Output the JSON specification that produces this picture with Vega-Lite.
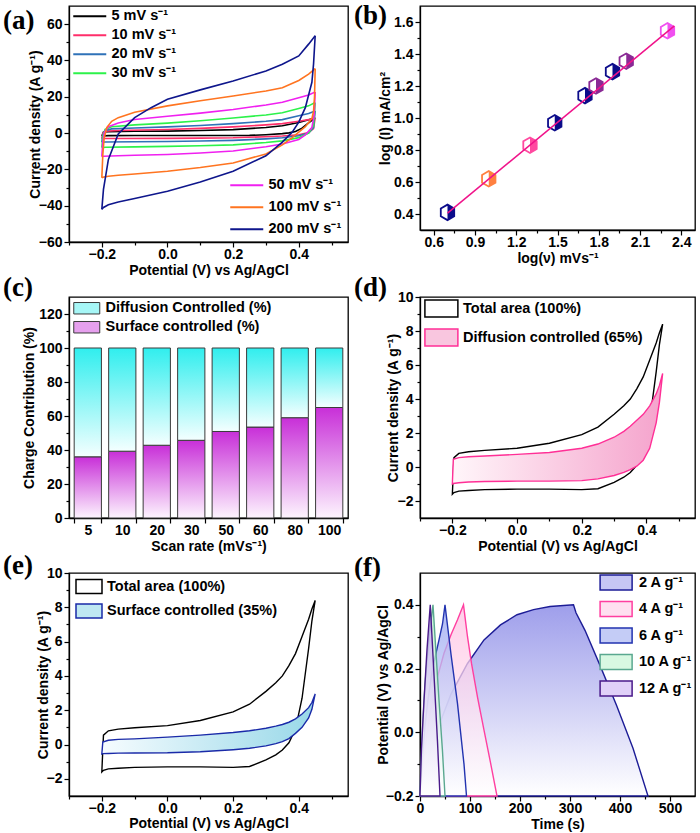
{
"$schema": "https://vega.github.io/schema/vega-lite/v6.json",
"background": "white",
"padding": {"left": 2, "top": 1, "right": 4, "bottom": 0},
"columns": 2,
"spacing": {"row": 55, "column": 72},
"bounds": "flush",
"align": "each",
"resolve": {"scale": {"color": "independent", "fill": "independent", "stroke": "independent"}, "legend": {"color": "independent", "fill": "independent", "stroke": "independent"}},
"datasets": {
"cv": [
{"s":"5","b":"u","x":-0.2,"y":-1.6},{"s":"5","b":"u","x":-0.195,"y":0.55},{"s":"5","b":"u","x":-0.18,"y":0.8},{"s":"5","b":"u","x":-0.1,"y":0.98},{"s":"5","b":"u","x":0,"y":1.1},{"s":"5","b":"u","x":0.1,"y":1.4},{"s":"5","b":"u","x":0.2,"y":1.9},{"s":"5","b":"u","x":0.3,"y":3.1},{"s":"5","b":"u","x":0.35,"y":4.0},{"s":"5","b":"u","x":0.4,"y":5.8},{"s":"5","b":"u","x":0.43,"y":7.3},{"s":"5","b":"u","x":0.45,"y":8.4},
{"s":"5","b":"l","x":-0.2,"y":-1.6},{"s":"5","b":"l","x":-0.18,"y":-1.42},{"s":"5","b":"l","x":-0.1,"y":-1.33},{"s":"5","b":"l","x":0,"y":-1.3},{"s":"5","b":"l","x":0.1,"y":-1.3},{"s":"5","b":"l","x":0.2,"y":-1.33},{"s":"5","b":"l","x":0.25,"y":-1.28},{"s":"5","b":"l","x":0.3,"y":-0.9},{"s":"5","b":"l","x":0.35,"y":-0.32},{"s":"5","b":"l","x":0.37,"y":0.1},{"s":"5","b":"l","x":0.39,"y":0.9},{"s":"5","b":"l","x":0.41,"y":2.7},{"s":"5","b":"l","x":0.43,"y":5.6},{"s":"5","b":"l","x":0.45,"y":8.4},
{"s":"10","b":"u","x":-0.2,"y":-3},{"s":"10","b":"u","x":-0.197,"y":0},{"s":"10","b":"u","x":-0.19,"y":1},{"s":"10","b":"u","x":-0.15,"y":1.4},{"s":"10","b":"u","x":0,"y":2},{"s":"10","b":"u","x":0.1,"y":2.6},{"s":"10","b":"u","x":0.2,"y":3.4},{"s":"10","b":"u","x":0.3,"y":4.5},{"s":"10","b":"u","x":0.35,"y":5.2},{"s":"10","b":"u","x":0.4,"y":6.5},{"s":"10","b":"u","x":0.43,"y":7.4},{"s":"10","b":"u","x":0.45,"y":8.5},
{"s":"10","b":"l","x":-0.2,"y":-3},{"s":"10","b":"l","x":-0.15,"y":-3},{"s":"10","b":"l","x":0,"y":-2.9},{"s":"10","b":"l","x":0.1,"y":-2.8},{"s":"10","b":"l","x":0.2,"y":-2.6},{"s":"10","b":"l","x":0.3,"y":-2},{"s":"10","b":"l","x":0.35,"y":-1.6},{"s":"10","b":"l","x":0.4,"y":-0.9},{"s":"10","b":"l","x":0.43,"y":0.3},{"s":"10","b":"l","x":0.445,"y":2.5},{"s":"10","b":"l","x":0.45,"y":8.5},
{"s":"20","b":"u","x":-0.2,"y":-5},{"s":"20","b":"u","x":-0.197,"y":-1},{"s":"20","b":"u","x":-0.19,"y":1.5},{"s":"20","b":"u","x":-0.17,"y":2.3},{"s":"20","b":"u","x":-0.1,"y":2.8},{"s":"20","b":"u","x":0,"y":3.4},{"s":"20","b":"u","x":0.1,"y":4.2},{"s":"20","b":"u","x":0.2,"y":5.2},{"s":"20","b":"u","x":0.3,"y":6.5},{"s":"20","b":"u","x":0.35,"y":7.4},{"s":"20","b":"u","x":0.4,"y":9.5},{"s":"20","b":"u","x":0.43,"y":10.8},{"s":"20","b":"u","x":0.45,"y":12.2},
{"s":"20","b":"l","x":-0.2,"y":-5},{"s":"20","b":"l","x":-0.19,"y":-4.9},{"s":"20","b":"l","x":-0.1,"y":-4.8},{"s":"20","b":"l","x":0,"y":-4.6},{"s":"20","b":"l","x":0.1,"y":-4.4},{"s":"20","b":"l","x":0.2,"y":-4},{"s":"20","b":"l","x":0.3,"y":-3.2},{"s":"20","b":"l","x":0.35,"y":-2.6},{"s":"20","b":"l","x":0.4,"y":-1.5},{"s":"20","b":"l","x":0.43,"y":0},{"s":"20","b":"l","x":0.445,"y":3},{"s":"20","b":"l","x":0.45,"y":12.2},
{"s":"30","b":"u","x":-0.2,"y":-8},{"s":"30","b":"u","x":-0.197,"y":-2},{"s":"30","b":"u","x":-0.19,"y":2},{"s":"30","b":"u","x":-0.17,"y":3.5},{"s":"30","b":"u","x":-0.1,"y":4.5},{"s":"30","b":"u","x":0,"y":5.5},{"s":"30","b":"u","x":0.1,"y":6.8},{"s":"30","b":"u","x":0.2,"y":8.3},{"s":"30","b":"u","x":0.3,"y":10},{"s":"30","b":"u","x":0.35,"y":11.2},{"s":"30","b":"u","x":0.4,"y":13.5},{"s":"30","b":"u","x":0.43,"y":15},{"s":"30","b":"u","x":0.45,"y":16.8},
{"s":"30","b":"l","x":-0.2,"y":-8},{"s":"30","b":"l","x":-0.19,"y":-7.8},{"s":"30","b":"l","x":-0.1,"y":-7.6},{"s":"30","b":"l","x":0,"y":-7.3},{"s":"30","b":"l","x":0.1,"y":-7},{"s":"30","b":"l","x":0.2,"y":-6.5},{"s":"30","b":"l","x":0.3,"y":-5.2},{"s":"30","b":"l","x":0.35,"y":-4.3},{"s":"30","b":"l","x":0.4,"y":-2.5},{"s":"30","b":"l","x":0.43,"y":0},{"s":"30","b":"l","x":0.445,"y":4},{"s":"30","b":"l","x":0.45,"y":16.8},
{"s":"50","b":"u","x":-0.2,"y":-13},{"s":"50","b":"u","x":-0.197,"y":-5},{"s":"50","b":"u","x":-0.192,"y":0.5},{"s":"50","b":"u","x":-0.18,"y":3.5},{"s":"50","b":"u","x":-0.15,"y":5.5},{"s":"50","b":"u","x":-0.1,"y":7.5},{"s":"50","b":"u","x":0,"y":9.3},{"s":"50","b":"u","x":0.1,"y":11},{"s":"50","b":"u","x":0.2,"y":13},{"s":"50","b":"u","x":0.3,"y":15.5},{"s":"50","b":"u","x":0.35,"y":17},{"s":"50","b":"u","x":0.4,"y":19.5},{"s":"50","b":"u","x":0.43,"y":21},{"s":"50","b":"u","x":0.45,"y":22.6},
{"s":"50","b":"l","x":-0.2,"y":-13},{"s":"50","b":"l","x":-0.195,"y":-12.8},{"s":"50","b":"l","x":-0.15,"y":-12.5},{"s":"50","b":"l","x":-0.1,"y":-12.2},{"s":"50","b":"l","x":0,"y":-11.8},{"s":"50","b":"l","x":0.1,"y":-11},{"s":"50","b":"l","x":0.2,"y":-9.9},{"s":"50","b":"l","x":0.3,"y":-7.5},{"s":"50","b":"l","x":0.35,"y":-6},{"s":"50","b":"l","x":0.4,"y":-3.5},{"s":"50","b":"l","x":0.42,"y":-1},{"s":"50","b":"l","x":0.44,"y":3},{"s":"50","b":"l","x":0.447,"y":10},{"s":"50","b":"l","x":0.45,"y":22.6},
{"s":"100","b":"u","x":-0.2,"y":-24.6},{"s":"100","b":"u","x":-0.197,"y":-12},{"s":"100","b":"u","x":-0.193,"y":-3},{"s":"100","b":"u","x":-0.185,"y":3},{"s":"100","b":"u","x":-0.17,"y":6.5},{"s":"100","b":"u","x":-0.15,"y":8.5},{"s":"100","b":"u","x":-0.1,"y":11.5},{"s":"100","b":"u","x":0,"y":15},{"s":"100","b":"u","x":0.1,"y":17.8},{"s":"100","b":"u","x":0.2,"y":20.4},{"s":"100","b":"u","x":0.3,"y":23.2},{"s":"100","b":"u","x":0.35,"y":25},{"s":"100","b":"u","x":0.4,"y":29},{"s":"100","b":"u","x":0.43,"y":32.5},{"s":"100","b":"u","x":0.45,"y":35.5},
{"s":"100","b":"l","x":-0.2,"y":-24.6},{"s":"100","b":"l","x":-0.197,"y":-24.3},{"s":"100","b":"l","x":-0.18,"y":-23.8},{"s":"100","b":"l","x":-0.15,"y":-23.2},{"s":"100","b":"l","x":-0.1,"y":-22.5},{"s":"100","b":"l","x":0,"y":-21},{"s":"100","b":"l","x":0.1,"y":-19},{"s":"100","b":"l","x":0.2,"y":-16.5},{"s":"100","b":"l","x":0.3,"y":-11.5},{"s":"100","b":"l","x":0.35,"y":-6.5},{"s":"100","b":"l","x":0.38,"y":-2.5},{"s":"100","b":"l","x":0.4,"y":0.5},{"s":"100","b":"l","x":0.42,"y":3.5},{"s":"100","b":"l","x":0.44,"y":8},{"s":"100","b":"l","x":0.445,"y":12},{"s":"100","b":"l","x":0.448,"y":20},{"s":"100","b":"l","x":0.45,"y":35.5},
{"s":"200","b":"u","x":-0.2,"y":-42},{"s":"200","b":"u","x":-0.195,"y":-31},{"s":"200","b":"u","x":-0.18,"y":-14.5},{"s":"200","b":"u","x":-0.15,"y":-0.5},{"s":"200","b":"u","x":-0.1,"y":8.5},{"s":"200","b":"u","x":-0.05,"y":14},{"s":"200","b":"u","x":0,"y":18.6},{"s":"200","b":"u","x":0.1,"y":23.8},{"s":"200","b":"u","x":0.2,"y":28.7},{"s":"200","b":"u","x":0.3,"y":34.2},{"s":"200","b":"u","x":0.35,"y":37.9},{"s":"200","b":"u","x":0.4,"y":42.5},{"s":"200","b":"u","x":0.43,"y":49},{"s":"200","b":"u","x":0.45,"y":53.6},
{"s":"200","b":"l","x":-0.2,"y":-42},{"s":"200","b":"l","x":-0.195,"y":-41},{"s":"200","b":"l","x":-0.18,"y":-39.5},{"s":"200","b":"l","x":-0.15,"y":-38},{"s":"200","b":"l","x":-0.1,"y":-36},{"s":"200","b":"l","x":0,"y":-32},{"s":"200","b":"l","x":0.1,"y":-27},{"s":"200","b":"l","x":0.2,"y":-21},{"s":"200","b":"l","x":0.3,"y":-12.5},{"s":"200","b":"l","x":0.35,"y":-5},{"s":"200","b":"l","x":0.38,"y":0.5},{"s":"200","b":"l","x":0.4,"y":6},{"s":"200","b":"l","x":0.42,"y":14},{"s":"200","b":"l","x":0.44,"y":28},{"s":"200","b":"l","x":0.445,"y":38},{"s":"200","b":"l","x":0.45,"y":53.6}
],
"pts": [
{"lx":0.7,"ly":0.41,"c":"navy"},{"lx":1.0,"ly":0.62,"c":"orange"},{"lx":1.3,"ly":0.83,"c":"pink"},{"lx":1.48,"ly":0.97,"c":"navy"},{"lx":1.7,"ly":1.14,"c":"navy"},{"lx":1.78,"ly":1.2,"c":"purple"},{"lx":1.9,"ly":1.29,"c":"navy"},{"lx":2.0,"ly":1.355,"c":"purple"},{"lx":2.3,"ly":1.545,"c":"magenta"}
],
"fit": [{"lx":0.7,"ly":0.405},{"lx":2.35,"ly":1.576}],
"cc": [{"r":"5","s":36},{"r":"10","s":39.3},{"r":"20","s":42.8},{"r":"30","s":45.7},{"r":"50","s":50.9},{"r":"60","s":53.5},{"r":"80","s":59},{"r":"100","s":65}],
"cvd": [
{"s":"Total area (100%)","x":-0.2,"hi":-1.6,"lo":-1.6},{"s":"Total area (100%)","x":-0.195,"hi":0.55,"lo":-1.5},{"s":"Total area (100%)","x":-0.18,"hi":0.8,"lo":-1.42},{"s":"Total area (100%)","x":-0.15,"hi":0.9,"lo":-1.38},{"s":"Total area (100%)","x":-0.1,"hi":0.98,"lo":-1.33},{"s":"Total area (100%)","x":0,"hi":1.1,"lo":-1.3},{"s":"Total area (100%)","x":0.1,"hi":1.4,"lo":-1.3},{"s":"Total area (100%)","x":0.2,"hi":1.9,"lo":-1.33},{"s":"Total area (100%)","x":0.25,"hi":2.35,"lo":-1.28},{"s":"Total area (100%)","x":0.3,"hi":3.1,"lo":-0.9},{"s":"Total area (100%)","x":0.33,"hi":3.6,"lo":-0.6},{"s":"Total area (100%)","x":0.35,"hi":4.0,"lo":-0.32},{"s":"Total area (100%)","x":0.37,"hi":4.6,"lo":0.1},{"s":"Total area (100%)","x":0.39,"hi":5.3,"lo":0.9},{"s":"Total area (100%)","x":0.41,"hi":6.3,"lo":2.7},{"s":"Total area (100%)","x":0.43,"hi":7.3,"lo":5.6},{"s":"Total area (100%)","x":0.44,"hi":7.9,"lo":7.2},{"s":"Total area (100%)","x":0.45,"hi":8.4,"lo":8.4},
{"s":"Diffusion controlled (65%)","x":-0.2,"hi":-1.0,"lo":-1.0},{"s":"Diffusion controlled (65%)","x":-0.197,"hi":0.45,"lo":-0.97},{"s":"Diffusion controlled (65%)","x":-0.18,"hi":0.55,"lo":-0.93},{"s":"Diffusion controlled (65%)","x":-0.15,"hi":0.6,"lo":-0.88},{"s":"Diffusion controlled (65%)","x":-0.1,"hi":0.65,"lo":-0.85},{"s":"Diffusion controlled (65%)","x":0,"hi":0.74,"lo":-0.83},{"s":"Diffusion controlled (65%)","x":0.1,"hi":0.85,"lo":-0.83},{"s":"Diffusion controlled (65%)","x":0.2,"hi":1.1,"lo":-0.8},{"s":"Diffusion controlled (65%)","x":0.25,"hi":1.35,"lo":-0.7},{"s":"Diffusion controlled (65%)","x":0.3,"hi":1.75,"lo":-0.5},{"s":"Diffusion controlled (65%)","x":0.33,"hi":2.1,"lo":-0.32},{"s":"Diffusion controlled (65%)","x":0.35,"hi":2.4,"lo":-0.15},{"s":"Diffusion controlled (65%)","x":0.37,"hi":2.75,"lo":0.05},{"s":"Diffusion controlled (65%)","x":0.39,"hi":3.1,"lo":0.4},{"s":"Diffusion controlled (65%)","x":0.41,"hi":3.6,"lo":1.1},{"s":"Diffusion controlled (65%)","x":0.43,"hi":4.3,"lo":2.6},{"s":"Diffusion controlled (65%)","x":0.44,"hi":4.8,"lo":3.8},{"s":"Diffusion controlled (65%)","x":0.45,"hi":5.5,"lo":5.5},
{"s":"Surface controlled (35%)","x":-0.2,"hi":-0.55,"lo":-0.55},{"s":"Surface controlled (35%)","x":-0.197,"hi":0.15,"lo":-0.53},{"s":"Surface controlled (35%)","x":-0.18,"hi":0.25,"lo":-0.52},{"s":"Surface controlled (35%)","x":-0.15,"hi":0.3,"lo":-0.5},{"s":"Surface controlled (35%)","x":-0.1,"hi":0.33,"lo":-0.49},{"s":"Surface controlled (35%)","x":0,"hi":0.43,"lo":-0.48},{"s":"Surface controlled (35%)","x":0.1,"hi":0.55,"lo":-0.42},{"s":"Surface controlled (35%)","x":0.2,"hi":0.7,"lo":-0.3},{"s":"Surface controlled (35%)","x":0.25,"hi":0.8,"lo":-0.22},{"s":"Surface controlled (35%)","x":0.3,"hi":0.95,"lo":-0.08},{"s":"Surface controlled (35%)","x":0.33,"hi":1.07,"lo":0.05},{"s":"Surface controlled (35%)","x":0.35,"hi":1.17,"lo":0.17},{"s":"Surface controlled (35%)","x":0.37,"hi":1.3,"lo":0.35},{"s":"Surface controlled (35%)","x":0.39,"hi":1.5,"lo":0.65},{"s":"Surface controlled (35%)","x":0.41,"hi":1.78,"lo":1.0},{"s":"Surface controlled (35%)","x":0.43,"hi":2.15,"lo":1.55},{"s":"Surface controlled (35%)","x":0.44,"hi":2.45,"lo":2.05},{"s":"Surface controlled (35%)","x":0.45,"hi":2.95,"lo":2.95}
],
"gcd": [
{"s":"2 A g⁻¹","t":0,"v":-0.2},{"s":"2 A g⁻¹","t":10,"v":-0.12},{"s":"2 A g⁻¹","t":25,"v":-0.04},{"s":"2 A g⁻¹","t":40,"v":0.03},{"s":"2 A g⁻¹","t":62,"v":0.12},{"s":"2 A g⁻¹","t":95,"v":0.216},{"s":"2 A g⁻¹","t":128,"v":0.29},{"s":"2 A g⁻¹","t":161,"v":0.337},{"s":"2 A g⁻¹","t":194,"v":0.369},{"s":"2 A g⁻¹","t":227,"v":0.385},{"s":"2 A g⁻¹","t":260,"v":0.395},{"s":"2 A g⁻¹","t":307,"v":0.4},{"s":"2 A g⁻¹","t":312,"v":0.375},{"s":"2 A g⁻¹","t":330,"v":0.32},{"s":"2 A g⁻¹","t":360,"v":0.21},{"s":"2 A g⁻¹","t":393,"v":0.085},{"s":"2 A g⁻¹","t":426,"v":-0.05},{"s":"2 A g⁻¹","t":456,"v":-0.2},
{"s":"4 A g⁻¹","t":0,"v":-0.2},{"s":"4 A g⁻¹","t":10,"v":-0.05},{"s":"4 A g⁻¹","t":20,"v":0.06},{"s":"4 A g⁻¹","t":35,"v":0.174},{"s":"4 A g⁻¹","t":48,"v":0.248},{"s":"4 A g⁻¹","t":62,"v":0.306},{"s":"4 A g⁻¹","t":75,"v":0.353},{"s":"4 A g⁻¹","t":87,"v":0.4},{"s":"4 A g⁻¹","t":95,"v":0.3},{"s":"4 A g⁻¹","t":103,"v":0.216},{"s":"4 A g⁻¹","t":115,"v":0.11},{"s":"4 A g⁻¹","t":128,"v":0.007},{"s":"4 A g⁻¹","t":141,"v":-0.095},{"s":"4 A g⁻¹","t":154,"v":-0.2},
{"s":"6 A g⁻¹","t":0,"v":-0.2},{"s":"6 A g⁻¹","t":5,"v":-0.08},{"s":"6 A g⁻¹","t":10,"v":0.02},{"s":"6 A g⁻¹","t":15,"v":0.09},{"s":"6 A g⁻¹","t":22,"v":0.17},{"s":"6 A g⁻¹","t":28,"v":0.22},{"s":"6 A g⁻¹","t":38,"v":0.29},{"s":"6 A g⁻¹","t":45,"v":0.34},{"s":"6 A g⁻¹","t":50,"v":0.4},{"s":"6 A g⁻¹","t":62,"v":0.245},{"s":"6 A g⁻¹","t":75,"v":0.09},{"s":"6 A g⁻¹","t":88,"v":-0.1},{"s":"6 A g⁻¹","t":93,"v":-0.2},
{"s":"10 A g⁻¹","t":0,"v":-0.2},{"s":"10 A g⁻¹","t":4,"v":-0.02},{"s":"10 A g⁻¹","t":10,"v":0.15},{"s":"10 A g⁻¹","t":18,"v":0.3},{"s":"10 A g⁻¹","t":26,"v":0.4},{"s":"10 A g⁻¹","t":30,"v":0.3},{"s":"10 A g⁻¹","t":38,"v":0.1},{"s":"10 A g⁻¹","t":45,"v":-0.06},{"s":"10 A g⁻¹","t":50,"v":-0.2},
{"s":"12 A g⁻¹","t":0,"v":-0.2},{"s":"12 A g⁻¹","t":3,"v":-0.05},{"s":"12 A g⁻¹","t":8,"v":0.1},{"s":"12 A g⁻¹","t":14,"v":0.26},{"s":"12 A g⁻¹","t":20.5,"v":0.4},{"s":"12 A g⁻¹","t":24,"v":0.3},{"s":"12 A g⁻¹","t":30,"v":0.12},{"s":"12 A g⁻¹","t":35,"v":-0.03},{"s":"12 A g⁻¹","t":40,"v":-0.2}
],
"note": [{"t":"x"}]
},
"concat": [
{
"width": 279, "height": 236,
"title": {"text": "(a)", "offset": -29},
"data": {"name": "cv"},
"encoding": {
 "x": {"field":"x","type":"quantitative","scale":{"domain":[-0.3,0.55]},"axis":{"values":[-0.3,-0.2,-0.1,0,0.1,0.2,0.3,0.4,0.5],"format":".1f","labelExpr":"round(datum.value*10) % 2 === 0 ? datum.label : ''","tickSize":{"condition":{"test":"round(datum.value*10) % 2 === 0","value":5},"value":3},"title":"Potential (V) vs Ag/AgCl","titlePadding":2}},
 "y": {"field":"y","type":"quantitative","scale":{"domain":[-60,70]},"axis":{"values":[-60,-50,-40,-30,-20,-10,0,10,20,30,40,50,60],"labelExpr":"datum.value % 20 === 0 ? datum.label : ''","tickSize":{"condition":{"test":"datum.value % 20 === 0","value":5},"value":3},"title":"Current density (A g⁻¹)","titlePadding":-4}},
 "detail": {"field":"b","type":"nominal"}
},
"layer": [
 {"transform":[{"filter":{"field":"s","oneOf":["5","10","20","30"]}}],
  "mark":{"type":"line","strokeWidth":1.6},
  "encoding":{"color":{"field":"s","type":"nominal","scale":{"domain":["5","10","20","30"],"range":["#000000","#ff2e6a","#2f72b8","#2cf24a"]},
   "legend":{"title":null,"orient":"top-left","offset":3,"labelExpr":"datum.label + ' mV s⁻¹'","symbolType":"M-1,0H4.5","symbolSize":144,"symbolStrokeWidth":2,"labelOffset":25,"rowPadding":4}}}},
 {"transform":[{"filter":{"field":"s","oneOf":["50","100","200"]}}],
  "mark":{"type":"line","strokeWidth":1.6},
  "encoding":{"color":{"field":"s","type":"nominal","scale":{"domain":["50","100","200"],"range":["#f020f0","#ff7420","#0e168c"]},
   "legend":{"title":null,"orient":"bottom-right","offset":6,"labelExpr":"datum.label + ' mV s⁻¹'","symbolType":"M-1,0H4.5","symbolSize":144,"symbolStrokeWidth":2,"labelOffset":25,"rowPadding":7}}}}
],
"resolve": {"scale": {"color": "independent"}}
},
{
"width": 275, "height": 224,
"title": {"text": "(b)", "offset": -24},
"encoding": {
 "x": {"field":"lx","type":"quantitative","scale":{"domain":[0.5,2.5]},"axis":{"values":[0.6,0.75,0.9,1.05,1.2,1.35,1.5,1.65,1.8,1.95,2.1,2.25,2.4],"format":".1f","labelExpr":"round(datum.value*100) % 30 === 0 ? datum.label : ''","tickSize":{"condition":{"test":"round(datum.value*100) % 30 === 0","value":5},"value":3},"title":"log(ν) mVs⁻¹","titlePadding":2}},
 "y": {"field":"ly","type":"quantitative","scale":{"domain":[0.3,1.7]},"axis":{"values":[0.4,0.5,0.6,0.7,0.8,0.9,1.0,1.1,1.2,1.3,1.4,1.5,1.6],"format":".1f","labelExpr":"round(datum.value*10) % 2 === 0 ? datum.label : ''","tickSize":{"condition":{"test":"round(datum.value*10) % 2 === 0","value":5},"value":3},"title":"log (I) mA/cm²","titlePadding":1}}
},
"layer": [
 {"data":{"name":"pts"},"mark":{"type":"point","shape":"M0,-1L0.866,-0.5L0.866,0.5L0,1Z","size":240,"filled":true,"opacity":1,"strokeWidth":0},
  "encoding":{"fill":{"field":"c","type":"nominal","scale":{"domain":["navy","orange","pink","purple","magenta"],"range":["#0c0c8a","#ff8040","#ff4aa0","#8a2a95","#f050f0"]},"legend":null}}},
 {"data":{"name":"pts"},"mark":{"type":"point","shape":"M0,-1L0.866,-0.5L0.866,0.5L0,1L-0.866,0.5L-0.866,-0.5Z","size":240,"filled":false,"opacity":1,"strokeWidth":1.8},
  "encoding":{"stroke":{"field":"c","type":"nominal","scale":{"domain":["navy","orange","pink","purple","magenta"],"range":["#0c0c8a","#ff8040","#ff4aa0","#8a2a95","#f050f0"]},"legend":null}}},
 {"data":{"name":"fit"},"mark":{"type":"line","color":"#f0138a","strokeWidth":1.5}},
 {"data":{"values":[{"t":"'k₂' value at 0.3 V is 0.71"}]},"mark":{"type":"text","align":"left","baseline":"middle","fontSize":14.5,"fontWeight":"bold","font":"Liberation Sans","color":"#000"},
  "encoding":{"x":{"datum":0.69},"y":{"datum":1.56},"text":{"field":"t"}}}
]
},
{
"width": 279, "height": 221,
"title": {"text": "(c)", "offset": -5},
"data": {"name": "cc"},
"encoding": {
 "x": {"field":"r","type":"ordinal","sort":null,"scale":{"paddingInner":0.21,"paddingOuter":0.15},"axis":{"title":"Scan rate (mVs⁻¹)","labelAngle":0,"tickBand":"extent","titlePadding":2}},
 "y": {"field":"s","type":"quantitative","scale":{"domain":[0,130]},"axis":{"values":[0,10,20,30,40,50,60,70,80,90,100,110,120],"labelExpr":"datum.value % 20 === 0 ? datum.label : ''","tickSize":{"condition":{"test":"datum.value % 20 === 0","value":5},"value":3},"title":"Charge Contribution (%)","titlePadding":2}}
},
"layer": [
 {"mark":{"type":"bar","stroke":"#3a3a3a","strokeWidth":1,"opacity":1,"fill":{"gradient":"linear","x1":0,"y1":0,"x2":0,"y2":1,"stops":[{"offset":0,"color":"#c82fd8"},{"offset":1,"color":"#fdf4fe"}]}}},
 {"mark":{"type":"bar","stroke":"#3a3a3a","strokeWidth":1,"opacity":1,"fill":{"gradient":"linear","x1":0,"y1":0,"x2":0,"y2":1,"stops":[{"offset":0,"color":"#30eeee"},{"offset":1,"color":"#f4ffff"}]}},
  "encoding":{"y2":{"datum":100}}},
 {"transform":[{"filter":{"field":"s","lt":0}}],
  "mark":{"type":"bar","stroke":"#3a3a3a","strokeWidth":1,"opacity":1},
  "encoding":{
   "fill":{"datum":"Surface controlled (%)","type":"nominal","scale":{"domain":["Diffusion Controlled (%)","Surface controlled (%)"],"range":["#a6f6f6","#e6a0ee"]},
    "legend":{"title":null,"orient":"top-left","offset":4,"symbolType":"M-1,-0.88H3V0.88H-1Z","symbolSize":169,"symbolStrokeColor":"#3a3a3a","symbolStrokeWidth":1,"labelOffset":18,"rowPadding":3}}}}
]
},
{
"width": 275, "height": 221,
"title": {"text": "(d)", "offset": -12},
"data": {"name": "cvd"},
"encoding": {
 "x":{"field":"x","type":"quantitative","scale":{"domain":[-0.3,0.55]},"axis":{"values":[-0.3,-0.2,-0.1,0,0.1,0.2,0.3,0.4,0.5],"format":".1f","labelExpr":"round(datum.value*10) % 2 === 0 ? datum.label : ''","tickSize":{"condition":{"test":"round(datum.value*10) % 2 === 0","value":5},"value":3},"title":"Potential (V) vs Ag/AgCl","titlePadding":2}},
 "y":{"field":"hi","type":"quantitative","scale":{"domain":[-3,10]},"axis":{"values":[-2,-1,0,1,2,3,4,5,6,7,8,9,10],"labelExpr":"datum.value % 2 === 0 ? datum.label : ''","tickSize":{"condition":{"test":"datum.value % 2 === 0","value":5},"value":3},"title":"Current density (A g⁻¹)","titlePadding":-3}}
},
"layer": [
 {"transform":[{"filter":{"field":"s","equal":"Total area (100%)"}}],
  "mark":{"type":"area","strokeWidth":1.4,"opacity":1},
  "encoding":{
   "y2":{"field":"lo"},
   "fill":{"field":"s","type":"nominal","scale":{"domain":["Total area (100%)","Diffusion controlled (65%)"],"range":["#ffffff","#f9c6df"]},
    "legend":{"title":null,"orient":"top-left","offset":4,"symbolType":"M-1,-1.3H4V1.3H-1Z","symbolSize":174,"symbolStrokeWidth":1.5,"labelOffset":24,"rowPadding":4}},
   "stroke":{"field":"s","type":"nominal","scale":{"domain":["Total area (100%)","Diffusion controlled (65%)"],"range":["#000000","#ff2f96"]},
    "legend":{"title":null,"orient":"top-left","offset":4,"symbolType":"M-1,-1.3H4V1.3H-1Z","symbolSize":174,"symbolStrokeWidth":1.5,"labelOffset":24,"rowPadding":4}}
  }},
 {"transform":[{"filter":{"field":"s","equal":"Diffusion controlled (65%)"}}],
  "mark":{"type":"area","strokeWidth":1.4,"opacity":1,"stroke":"#ff2f96","fill":{"gradient":"linear","x1":0,"y1":0,"x2":1,"y2":0,"stops":[{"offset":0,"color":"#fff6fa"},{"offset":1,"color":"#f5a3cc"}]}},
  "encoding":{"y2":{"field":"lo"}}},
 {"data":{"name":"note"},"mark":{"type":"text","align":"right","baseline":"middle","fontSize":14.5,"fontWeight":"bold","font":"Liberation Sans","color":"#000"},
  "encoding":{"x":{"datum":0.535},"y":{"datum":-2.4},"text":{"value":"@ 5 mV s⁻¹"}}}
]
},
{
"width": 279, "height": 223,
"title": {"text": "(e)", "offset": -14},
"data": {"name": "cvd"},
"encoding": {
 "x":{"field":"x","type":"quantitative","scale":{"domain":[-0.3,0.55]},"axis":{"values":[-0.3,-0.2,-0.1,0,0.1,0.2,0.3,0.4,0.5],"format":".1f","labelExpr":"round(datum.value*10) % 2 === 0 ? datum.label : ''","tickSize":{"condition":{"test":"round(datum.value*10) % 2 === 0","value":5},"value":3},"title":"Potential (V) vs Ag/AgCl","titlePadding":1}},
 "y":{"field":"hi","type":"quantitative","scale":{"domain":[-3,10]},"axis":{"values":[-2,-1,0,1,2,3,4,5,6,7,8,9,10],"labelExpr":"datum.value % 2 === 0 ? datum.label : ''","tickSize":{"condition":{"test":"datum.value % 2 === 0","value":5},"value":3},"title":"Current density (A g⁻¹)","titlePadding":-4}}
},
"layer": [
 {"transform":[{"filter":{"field":"s","equal":"Total area (100%)"}}],
  "mark":{"type":"area","strokeWidth":1.4,"opacity":1},
  "encoding":{
   "y2":{"field":"lo"},
   "fill":{"field":"s","type":"nominal","scale":{"domain":["Total area (100%)","Surface controlled (35%)"],"range":["#ffffff","#bfe8f2"]},
    "legend":{"title":null,"orient":"top-left","offset":6,"symbolType":"M-1,-1.08H3V1.08H-1Z","symbolSize":169,"symbolStrokeWidth":1.5,"labelOffset":17,"rowPadding":3.5}},
   "stroke":{"field":"s","type":"nominal","scale":{"domain":["Total area (100%)","Surface controlled (35%)"],"range":["#000000","#1a2aa8"]},
    "legend":{"title":null,"orient":"top-left","offset":6,"symbolType":"M-1,-1.08H3V1.08H-1Z","symbolSize":169,"symbolStrokeWidth":1.5,"labelOffset":17,"rowPadding":3.5}}
  }},
 {"transform":[{"filter":{"field":"s","equal":"Surface controlled (35%)"}}],
  "mark":{"type":"area","strokeWidth":1.4,"opacity":1,"stroke":"#1a2aa8","fill":{"gradient":"linear","x1":0,"y1":0,"x2":1,"y2":0,"stops":[{"offset":0,"color":"#f6fcff"},{"offset":1,"color":"#98d8e8"}]}},
  "encoding":{"y2":{"field":"lo"}}},
 {"data":{"name":"note"},"mark":{"type":"text","align":"right","baseline":"middle","fontSize":14.5,"fontWeight":"bold","font":"Liberation Sans","color":"#000"},
  "encoding":{"x":{"datum":0.535},"y":{"datum":-2.4},"text":{"value":"@ 5 mV s⁻¹"}}}
]
},
{
"width": 275, "height": 223,
"title": {"text": "(f)", "offset": -9},
"data": {"name": "gcd"},
"encoding": {
 "x": {"field":"t","type":"quantitative","scale":{"domain":[0,550]},"axis":{"values":[0,50,100,150,200,250,300,350,400,450,500],"labelExpr":"datum.value % 100 === 0 ? datum.label : ''","tickSize":{"condition":{"test":"datum.value % 100 === 0","value":5},"value":3},"title":"Time (s)","titlePadding":2}},
 "y": {"field":"v","type":"quantitative","scale":{"domain":[-0.2,0.5]},"axis":{"values":[-0.2,-0.1,0,0.1,0.2,0.3,0.4],"format":".1f","labelExpr":"round(datum.value*10) % 2 === 0 ? datum.label : ''","tickSize":{"condition":{"test":"round(datum.value*10) % 2 === 0","value":5},"value":3},"title":"Potential (V) vs Ag/AgCl","titlePadding":-5}},
 "y2": {"datum": -0.2}
},
"layer": [
 {"transform":[{"filter":{"field":"s","equal":"2 A g⁻¹"}}],"mark":{"type":"area","opacity":1,"fillOpacity":0.8,"stroke":"#1c1c96","strokeWidth":1.4,"fill":{"gradient":"linear","x1":0,"y1":0,"x2":0,"y2":1,"stops":[{"offset":0,"color":"#8686e6"},{"offset":1,"color":"#ffffff"}]}}},
 {"transform":[{"filter":{"field":"s","equal":"4 A g⁻¹"}}],"mark":{"type":"area","opacity":1,"fillOpacity":0.75,"stroke":"#ff3fa0","strokeWidth":1.4,"fill":{"gradient":"linear","x1":0,"y1":0,"x2":0,"y2":1,"stops":[{"offset":0,"color":"#ffc0e2"},{"offset":1,"color":"#ffffff"}]}}},
 {"transform":[{"filter":{"field":"s","equal":"6 A g⁻¹"}}],"mark":{"type":"area","opacity":1,"fillOpacity":0.75,"stroke":"#2233b0","strokeWidth":1.4,"fill":{"gradient":"linear","x1":0,"y1":0,"x2":0,"y2":1,"stops":[{"offset":0,"color":"#94a2f0"},{"offset":1,"color":"#ffffff"}]}}},
 {"transform":[{"filter":{"field":"s","equal":"10 A g⁻¹"}}],"mark":{"type":"area","opacity":1,"fillOpacity":0.75,"stroke":"#5aa890","strokeWidth":1.4,"fill":{"gradient":"linear","x1":0,"y1":0,"x2":0,"y2":1,"stops":[{"offset":0,"color":"#b4f0c8"},{"offset":1,"color":"#ffffff"}]}}},
 {"transform":[{"filter":{"field":"s","equal":"12 A g⁻¹"}}],"mark":{"type":"area","opacity":1,"fillOpacity":0.75,"stroke":"#4a1a8a","strokeWidth":1.4,"fill":{"gradient":"linear","x1":0,"y1":0,"x2":0,"y2":1,"stops":[{"offset":0,"color":"#c6a6f2"},{"offset":1,"color":"#ffffff"}]}}},
 {"transform":[{"filter":{"field":"t","lt":-1}}],"mark":{"type":"area","opacity":1,"strokeWidth":1.5},
  "encoding":{
   "fill":{"field":"s","type":"nominal","scale":{"domain":["2 A g⁻¹","4 A g⁻¹","6 A g⁻¹","10 A g⁻¹","12 A g⁻¹"],"range":["#c6c6f4","#ffe0f0","#c4ccf6","#d8f8e2","#e0d0f8"]},
    "legend":{"title":null,"orient":"top-right","offset":2,"symbolType":"M-1,-1.17H4V1.17H-1Z","symbolSize":164,"symbolStrokeWidth":1.5,"labelOffset":25,"rowPadding":5.5}},
   "stroke":{"field":"s","type":"nominal","scale":{"domain":["2 A g⁻¹","4 A g⁻¹","6 A g⁻¹","10 A g⁻¹","12 A g⁻¹"],"range":["#1c1c96","#ff3fa0","#2233b0","#5aa890","#4a1a8a"]},
    "legend":{"title":null,"orient":"top-right","offset":2,"symbolType":"M-1,-1.17H4V1.17H-1Z","symbolSize":164,"symbolStrokeWidth":1.5,"labelOffset":25,"rowPadding":5.5}}}}
]
}
],
"config": {
 "font": "Liberation Sans",
 "view": {"stroke": "#000000", "strokeWidth": 1.3},
 "axis": {"grid": false, "domainColor": "#000000", "domainWidth": 1.3, "tickColor": "#000000", "tickWidth": 1.2, "tickSize": 5, "labelFont": "Liberation Sans", "labelFontSize": 14, "labelFontWeight": "bold", "labelColor": "#000000", "labelPadding": 2, "labelFlush": false, "labelOverlap": false, "titleFont": "Liberation Sans", "titleFontSize": 14, "titleFontWeight": "bold", "titleColor": "#000000"},
 "axisX": {"labelPadding": 0},
 "legend": {"labelFont": "Liberation Sans", "labelFontSize": 14.5, "labelFontWeight": "bold", "labelColor": "#000000", "padding": 0, "labelLimit": 400},
 "title": {"font": "Liberation Serif", "fontSize": 27, "fontWeight": "bold", "anchor": "start", "frame": "group", "baseline": "alphabetic", "color": "#000000", "dx": -66}
}
}
